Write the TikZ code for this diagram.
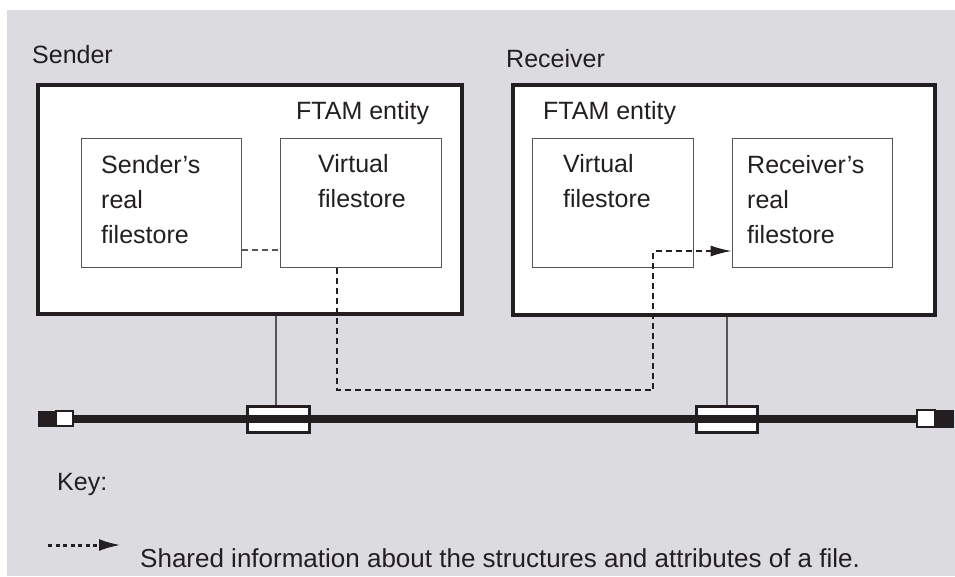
\documentclass[tikz,border=0pt]{standalone}
\usepackage{fontspec}
\setmainfont{Liberation Sans}
\usetikzlibrary{arrows.meta}
\definecolor{bg}{HTML}{DCDBE0}
\definecolor{ink}{HTML}{231F20}
\definecolor{thin}{HTML}{555555}
\tikzset{
  lbl/.style={anchor=base west, inner sep=0pt, text=ink, font=\fontsize{25}{35}\selectfont, align=left},
  outerbox/.style={draw=ink, fill=white, line width=4pt, inner sep=0pt},
  innerbox/.style={draw=thin, fill=white, line width=1pt, inner sep=0pt},
  shareline/.style={draw=ink, line width=1.3pt, dash pattern=on 6pt off 4pt},
  linkline/.style={draw=thin, line width=1.2pt},
  busbox/.style={draw=ink, fill=white, line width=3pt, inner sep=0pt},
  termblack/.style={fill=ink, draw=ink, line width=1pt, inner sep=0pt},
  termwhite/.style={fill=white, draw=ink, line width=2pt, inner sep=0pt},
}
\begin{document}
\begin{tikzpicture}[x=1pt, y=-1pt]
\useasboundingbox (0,0) rectangle (955,576);
\fill[bg] (7,10) rectangle (955,576);
% outer boxes
\node[outerbox, minimum width=424pt, minimum height=229pt] (sbox) at (250,199.5) {};
\node[outerbox, minimum width=422pt, minimum height=230pt] (rbox) at (724,200) {};
% inner boxes
\node[innerbox, minimum width=160pt, minimum height=129pt] (sreal) at (161,202.5) {};
\node[innerbox, minimum width=161pt, minimum height=129pt] (svirt) at (360.5,202.5) {};
\node[innerbox, minimum width=161pt, minimum height=129pt] (rvirt) at (612.5,202.5) {};
\node[innerbox, minimum width=160pt, minimum height=129pt] (rreal) at (812,202.5) {};
% labels (base anchor = baseline of the last line)
\node[lbl] (tsender) at (32,63) {Sender};
\node[lbl] (trecv) at (506,67) {Receiver};
\node[lbl] (tftams) at (296,119) {FTAM entity};
\node[lbl] (tftamr) at (543,119) {FTAM entity};
\node[lbl] (tsreal) at (101,243) {Sender’s\\real\\filestore};
\node[lbl] (tsvirt) at (318,207) {Virtual\\filestore};
\node[lbl] (trvirt) at (563,207) {Virtual\\filestore};
\node[lbl] (trreal) at (747,243) {Receiver’s\\real\\filestore};
% dashed link between sender boxes
\draw[draw=thin, line width=1.2pt, dash pattern=on 6pt off 4pt] (sreal.east |- 0,250) -- (svirt.west |- 0,250);
% shared information path
\coordinate (p1) at (337,390);
\coordinate (p2) at (653,390);
\coordinate (p3) at (653,251);
\draw[shareline, -{Latex[length=21pt,width=11pt]}] (svirt.south -| p1) -- (p1) -- (p2) -- (p3) -- (rreal.west |- p3);
% bus boxes
\node[busbox, minimum width=62pt, minimum height=26pt] (bus1) at (278.5,419.5) {};
\node[busbox, minimum width=61pt, minimum height=26pt] (bus2) at (727,419.5) {};
% vertical connectors
\draw[linkline] (sbox.south -| 276,0) -- (bus1.north -| 276,0);
\draw[linkline] (rbox.south -| 727,0) -- (bus2.north -| 727,0);
% terminators
\node[termblack, minimum width=18pt, minimum height=15pt] (tl1) at (47,418.5) {};
\node[termwhite, minimum width=17pt, minimum height=15pt] (tl2) at (64.5,418.5) {};
\node[termwhite, minimum width=18pt, minimum height=17pt] (tr1) at (926,418.5) {};
\node[termblack, minimum width=18pt, minimum height=17pt] (tr2) at (944,418.5) {};
% bus line
\draw[draw=ink, line width=8pt] (tl2.east) -- (tr1.west);
% key
\node[lbl] (tkey) at (57,490) {Key:};
\coordinate (k1) at (48,545);
\coordinate (k2) at (121,545);
\draw[draw=ink, line width=3pt, dash pattern=on 4pt off 3.5pt, -{Latex[length=22pt,width=12pt]}] (k1) -- (k2);
\node[lbl, font=\fontsize{26}{30}\selectfont] (tshared) at (140,567) {Shared information about the structures and attributes of a file.};
\end{tikzpicture}
\end{document}
